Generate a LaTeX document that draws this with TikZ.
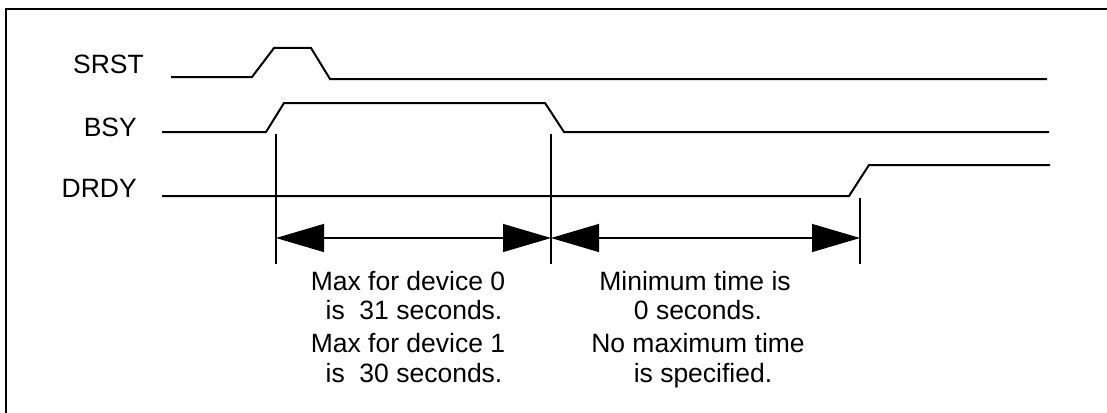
\documentclass[tikz,border=0pt]{standalone}
\usepackage{fontspec}
\setmainfont{Liberation Sans}
\usetikzlibrary{arrows.meta}
\begin{document}
\begin{tikzpicture}[x=1pt,y=-1pt,
  sig/.style={line width=2pt,line join=miter},
  frame/.style={line width=2.2pt},
  marker/.style={line width=2pt},
  span/.style={line width=1.2pt,{Triangle[length=48pt,width=28pt]}-{Triangle[length=48pt,width=28pt]}},
  lbl/.style={inner sep=0pt,font=\fontsize{26.5}{31}\selectfont},
  txt/.style={inner sep=0pt,anchor=base,font=\fontsize{26.5}{31}\selectfont}]
\useasboundingbox (0,0) rectangle (1107,412);
\fill[white] (0,0) rectangle (1107,412);
% frame
\draw[frame] (6,413) -- (6,9) -- (1108,9);
% labels
\node[lbl,anchor=base east] (srst) at (144,73) {SRST};
\node[lbl,anchor=base east] (bsy) at (137,136) {BSY};
\node[lbl,anchor=base east] (drdy) at (137,197) {DRDY};
% signals
\draw[sig] (171,77) -- (252,77) -- (274,48) -- (311,48) -- (330,79) -- (1047,79);
\draw[sig] (162,132) -- (266,132) -- (284,103) -- (545,103) -- (564,132) -- (1049,132);
\draw[sig] (162,196) -- (849,196) -- (869,165) -- (1050,165);
% markers
\coordinate (m1t) at (276,134); \coordinate (m1b) at (276,264);
\coordinate (m2t) at (551,134); \coordinate (m2b) at (551,264);
\coordinate (m3t) at (860,198); \coordinate (m3b) at (860,264);
\draw[marker] (m1t) -- (m1b);
\draw[marker] (m2t) -- (m2b);
\draw[marker] (m3t) -- (m3b);
\coordinate (a1) at (276,238); \coordinate (a2) at (551,238); \coordinate (a3) at (860,238);
\draw[span] (a1) -- (a2);
\draw[span] (a2) -- (a3);
% texts
\node[txt] (t1) at (408,290) {Max for device 0};
\node[txt] (t2) at (414,319) {is\ \ 31 seconds.};
\node[txt] (t3) at (408,352) {Max for device 1};
\node[txt] (t4) at (414,382) {is\ \ 30 seconds.};
\node[txt] (u1) at (695,290) {Minimum time is};
\node[txt] (u2) at (698,319) {0 seconds.};
\node[txt] (u3) at (698,352) {No maximum time};
\node[txt] (u4) at (703,382) {is specified.};
\end{tikzpicture}
\end{document}
